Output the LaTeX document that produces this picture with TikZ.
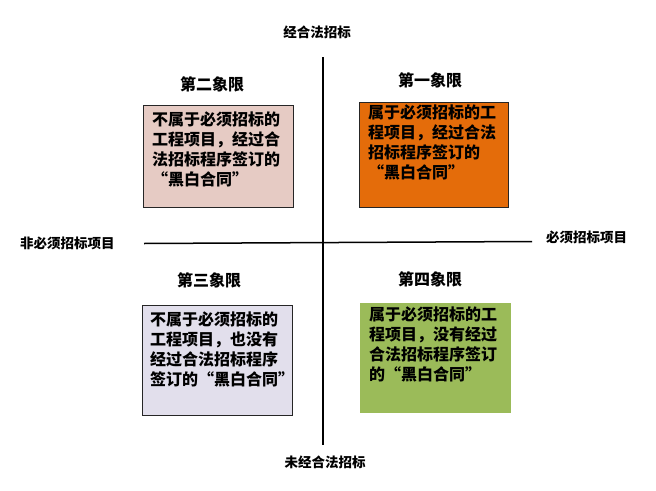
\documentclass[tikz,border=0pt]{standalone}
\usepackage{fontspec}
\setmainfont{Noto Sans CJK SC}
\usetikzlibrary{calc}
\definecolor{qtwo}{HTML}{E6CBC4}
\definecolor{qone}{HTML}{E46C0A}
\definecolor{qthree}{HTML}{E2DFEC}
\definecolor{qfour}{HTML}{9BBB59}
\begin{document}
\begin{tikzpicture}[x=1pt,y=-1pt,
  box/.style={draw=black!85,line width=0.9pt,anchor=north west,inner sep=0pt},
  boxtext/.style={anchor=north west,inner sep=0pt,align=left,font=\fontsize{16}{20}\selectfont\bfseries},
  qtitle/.style={font=\fontsize{16}{18}\selectfont\bfseries,inner sep=0pt},
  axlabel/.style={font=\fontsize{13.5}{16}\selectfont\bfseries,inner sep=0pt},
  axis/.style={line width=1.5pt,black}]
\useasboundingbox (0,0) rectangle (656,490);
% axes
\coordinate (vtop) at (323,57);
\coordinate (vbot) at (323,445);
\coordinate (hleft) at (144,243.5);
\coordinate (hright) at (532,241.5);
\draw[axis] (vtop) -- (vbot);
\draw[axis] (hleft) -- (hright);
% axis labels
\node[axlabel] (ltop) at (317,32) {经合法招标};
\node[axlabel] (lbot) at (325,462) {未经合法招标};
\node[axlabel,anchor=west] (lleft) at (20,243) {非必须招标项目};
\node[axlabel,anchor=west] (lright) at (546,237) {必须招标项目};
% quadrant titles
\node[qtitle] (t2) at (212,84) {第二象限};
\node[qtitle] (t1) at (430,80) {第一象限};
\node[qtitle] (t3) at (209,280) {第三象限};
\node[qtitle] (t4) at (430,279) {第四象限};
% boxes
\node[box,fill=qtwo,minimum width=150pt,minimum height=102pt] (b2) at (143,105) {};
\node[box,fill=qone,minimum width=149pt,minimum height=105pt] (b1) at (359,102) {};
\node[box,fill=qthree,minimum width=150pt,minimum height=110pt] (b3) at (142,305) {};
\node[box,draw=qfour,fill=qfour,minimum width=150pt,minimum height=109pt] (b4) at (360,303) {};
% box texts
\node[boxtext] (x2) at ($(b2.north west)+(9,7)$) {不属于必须招标的\\工程项目，经过合\\法招标程序签订的\\“黑白合同”};
\node[boxtext] (x1) at ($(b1.north west)+(9,3)$) {属于必须招标的工\\程项目，经过合法\\招标程序签订的\\“黑白合同”};
\node[boxtext] (x3) at ($(b3.north west)+(8,7)$) {不属于必须招标的\\工程项目，也没有\\经过合法招标程序\\签订的“黑白合同”};
\node[boxtext] (x4) at ($(b4.north west)+(9,4)$) {属于必须招标的工\\程项目，没有经过\\合法招标程序签订\\的“黑白合同”};
\end{tikzpicture}
\end{document}
